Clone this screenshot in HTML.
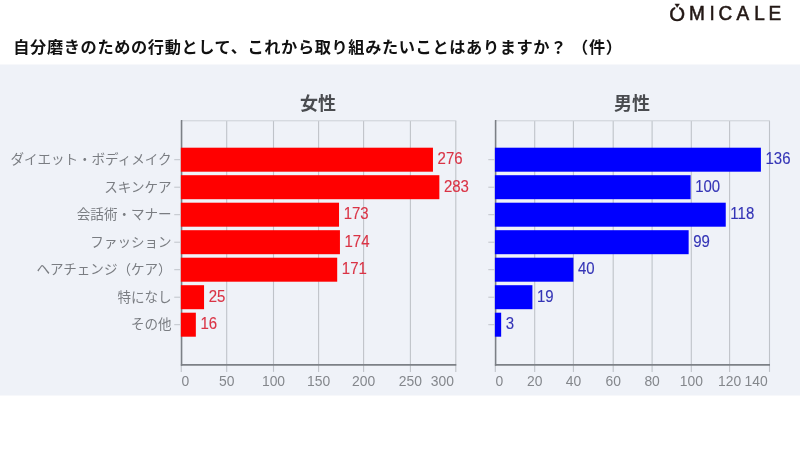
<!DOCTYPE html>
<html lang="ja"><head><meta charset="utf-8"><title>OMICALE</title>
<style>
html,body{margin:0;padding:0;background:#fff;}
body{width:800px;height:450px;position:relative;overflow:hidden;font-family:"Liberation Sans","Noto Sans CJK JP",sans-serif;}
svg text{font-family:"Liberation Sans","Noto Sans CJK JP",sans-serif;}
.title{position:absolute;left:13.3px;top:35.5px;font-size:16.2px;font-weight:bold;color:#111;letter-spacing:0.63px;white-space:pre;text-spacing-trim:space-all;line-height:22px;}
</style></head><body>
<svg width="800" height="450" viewBox="0 0 800 450" style="position:absolute;left:0;top:0">
<rect x="0" y="64.5" width="800" height="331" fill="#eff2f8"/>
<line x1="226.70" y1="121.0" x2="226.70" y2="371.9" stroke="#bfc3c9" stroke-width="1.1"/>
<line x1="273.50" y1="121.0" x2="273.50" y2="371.9" stroke="#bfc3c9" stroke-width="1.1"/>
<line x1="318.60" y1="121.0" x2="318.60" y2="371.9" stroke="#bfc3c9" stroke-width="1.1"/>
<line x1="363.60" y1="121.0" x2="363.60" y2="371.9" stroke="#bfc3c9" stroke-width="1.1"/>
<line x1="410.40" y1="121.0" x2="410.40" y2="371.9" stroke="#bfc3c9" stroke-width="1.1"/>
<line x1="455.80" y1="121.0" x2="455.80" y2="371.9" stroke="#bfc3c9" stroke-width="1.1"/>
<line x1="181.25" y1="120.8" x2="456.3" y2="120.8" stroke="#ccd0d6" stroke-width="1"/>
<line x1="181.25" y1="120.5" x2="181.25" y2="371.9" stroke="#bfc3c9" stroke-width="1.1"/>
<line x1="181.6" y1="120.0" x2="181.6" y2="365.79999999999995" stroke="#7c8086" stroke-width="1.5"/>
<line x1="180.85" y1="364.9" x2="456.3" y2="364.9" stroke="#7c8086" stroke-width="1.8"/>
<rect x="180.85" y="147.70" width="252.11" height="24.0" fill="#ff0000"/>
<text transform="translate(437.56,164.40) scale(1,1.12)" font-size="15" fill="#da3345" text-anchor="start" stroke="#da3345" stroke-width="0.12" class="num">276</text>
<line x1="174.25" y1="159.70" x2="180.85" y2="159.70" stroke="#c0c4ca" stroke-width="1"/>
<text x="171.65" y="164.30" font-size="13.55" fill="#7a7d82" text-anchor="end" class="jp">ダイエット・ボディメイク</text>
<rect x="180.85" y="175.20" width="258.50" height="24.0" fill="#ff0000"/>
<text transform="translate(443.95,191.90) scale(1,1.12)" font-size="15" fill="#da3345" text-anchor="start" stroke="#da3345" stroke-width="0.12" class="num">283</text>
<line x1="174.25" y1="187.20" x2="180.85" y2="187.20" stroke="#c0c4ca" stroke-width="1"/>
<text x="171.65" y="191.80" font-size="13.55" fill="#7a7d82" text-anchor="end" class="jp">スキンケア</text>
<rect x="180.85" y="202.70" width="158.18" height="24.0" fill="#ff0000"/>
<text transform="translate(343.63,219.40) scale(1,1.12)" font-size="15" fill="#da3345" text-anchor="start" stroke="#da3345" stroke-width="0.12" class="num">173</text>
<line x1="174.25" y1="214.70" x2="180.85" y2="214.70" stroke="#c0c4ca" stroke-width="1"/>
<text x="171.65" y="219.30" font-size="13.55" fill="#7a7d82" text-anchor="end" class="jp">会話術・マナー</text>
<rect x="180.85" y="230.20" width="159.09" height="24.0" fill="#ff0000"/>
<text transform="translate(344.54,246.90) scale(1,1.12)" font-size="15" fill="#da3345" text-anchor="start" stroke="#da3345" stroke-width="0.12" class="num">174</text>
<line x1="174.25" y1="242.20" x2="180.85" y2="242.20" stroke="#c0c4ca" stroke-width="1"/>
<text x="171.65" y="246.80" font-size="13.55" fill="#7a7d82" text-anchor="end" class="jp">ファッション</text>
<rect x="180.85" y="257.70" width="156.35" height="24.0" fill="#ff0000"/>
<text transform="translate(341.80,274.40) scale(1,1.12)" font-size="15" fill="#da3345" text-anchor="start" stroke="#da3345" stroke-width="0.12" class="num">171</text>
<line x1="174.25" y1="269.70" x2="180.85" y2="269.70" stroke="#c0c4ca" stroke-width="1"/>
<text x="171.65" y="274.30" font-size="13.55" fill="#7a7d82" text-anchor="end" class="jp">ヘアチェンジ（ケア）</text>
<rect x="180.85" y="285.20" width="23.20" height="24.0" fill="#ff0000"/>
<text transform="translate(208.65,301.90) scale(1,1.12)" font-size="15" fill="#da3345" text-anchor="start" stroke="#da3345" stroke-width="0.12" class="num">25</text>
<line x1="174.25" y1="297.20" x2="180.85" y2="297.20" stroke="#c0c4ca" stroke-width="1"/>
<text x="171.65" y="301.80" font-size="13.55" fill="#7a7d82" text-anchor="end" class="jp">特になし</text>
<rect x="180.85" y="312.70" width="14.99" height="24.0" fill="#ff0000"/>
<text transform="translate(200.44,329.40) scale(1,1.12)" font-size="15" fill="#da3345" text-anchor="start" stroke="#da3345" stroke-width="0.12" class="num">16</text>
<line x1="174.25" y1="324.70" x2="180.85" y2="324.70" stroke="#c0c4ca" stroke-width="1"/>
<text x="171.65" y="329.30" font-size="13.55" fill="#7a7d82" text-anchor="end" class="jp">その他</text>
<text transform="translate(181.55,385.50) scale(1,1.08)" font-size="13.9" fill="#84878c" text-anchor="start" stroke="#84878c" stroke-width="0" class="num">0</text>
<text transform="translate(226.70,385.50) scale(1,1.08)" font-size="13.9" fill="#84878c" text-anchor="middle" stroke="#84878c" stroke-width="0" class="num">50</text>
<text transform="translate(273.50,385.50) scale(1,1.08)" font-size="13.9" fill="#84878c" text-anchor="middle" stroke="#84878c" stroke-width="0" class="num">100</text>
<text transform="translate(318.60,385.50) scale(1,1.08)" font-size="13.9" fill="#84878c" text-anchor="middle" stroke="#84878c" stroke-width="0" class="num">150</text>
<text transform="translate(363.60,385.50) scale(1,1.08)" font-size="13.9" fill="#84878c" text-anchor="middle" stroke="#84878c" stroke-width="0" class="num">200</text>
<text transform="translate(410.40,385.50) scale(1,1.08)" font-size="13.9" fill="#84878c" text-anchor="middle" stroke="#84878c" stroke-width="0" class="num">250</text>
<text transform="translate(454.00,385.50) scale(1,1.08)" font-size="13.9" fill="#84878c" text-anchor="end" stroke="#84878c" stroke-width="0" class="num">300</text>
<text x="318.02" y="110.4" font-size="18" font-weight="bold" fill="#4a4c50" text-anchor="middle" class="jp">女性</text>
<line x1="534.70" y1="121.0" x2="534.70" y2="371.9" stroke="#bfc3c9" stroke-width="1.1"/>
<line x1="573.40" y1="121.0" x2="573.40" y2="371.9" stroke="#bfc3c9" stroke-width="1.1"/>
<line x1="613.20" y1="121.0" x2="613.20" y2="371.9" stroke="#bfc3c9" stroke-width="1.1"/>
<line x1="652.10" y1="121.0" x2="652.10" y2="371.9" stroke="#bfc3c9" stroke-width="1.1"/>
<line x1="691.30" y1="121.0" x2="691.30" y2="371.9" stroke="#bfc3c9" stroke-width="1.1"/>
<line x1="729.60" y1="121.0" x2="729.60" y2="371.9" stroke="#bfc3c9" stroke-width="1.1"/>
<line x1="769.50" y1="121.0" x2="769.50" y2="371.9" stroke="#bfc3c9" stroke-width="1.1"/>
<line x1="495.3" y1="120.8" x2="770.0" y2="120.8" stroke="#ccd0d6" stroke-width="1"/>
<line x1="495.3" y1="120.5" x2="495.3" y2="371.9" stroke="#bfc3c9" stroke-width="1.1"/>
<line x1="495.65000000000003" y1="120.0" x2="495.65000000000003" y2="365.79999999999995" stroke="#7c8086" stroke-width="1.5"/>
<line x1="494.90000000000003" y1="364.9" x2="770.0" y2="364.9" stroke="#7c8086" stroke-width="1.8"/>
<rect x="494.90" y="147.70" width="266.01" height="24.0" fill="#0000ff"/>
<text transform="translate(765.51,164.40) scale(1,1.12)" font-size="15" fill="#3434b6" text-anchor="start" stroke="#3434b6" stroke-width="0.12" class="num">136</text>
<line x1="488.3" y1="159.70" x2="494.90000000000003" y2="159.70" stroke="#c0c4ca" stroke-width="1"/>
<rect x="494.90" y="175.20" width="195.70" height="24.0" fill="#0000ff"/>
<text transform="translate(695.20,191.90) scale(1,1.12)" font-size="15" fill="#3434b6" text-anchor="start" stroke="#3434b6" stroke-width="0.12" class="num">100</text>
<line x1="488.3" y1="187.20" x2="494.90000000000003" y2="187.20" stroke="#c0c4ca" stroke-width="1"/>
<rect x="494.90" y="202.70" width="230.85" height="24.0" fill="#0000ff"/>
<text transform="translate(730.35,219.40) scale(1,1.12)" font-size="15" fill="#3434b6" text-anchor="start" stroke="#3434b6" stroke-width="0.12" class="num">118</text>
<line x1="488.3" y1="214.70" x2="494.90000000000003" y2="214.70" stroke="#c0c4ca" stroke-width="1"/>
<rect x="494.90" y="230.20" width="193.75" height="24.0" fill="#0000ff"/>
<text transform="translate(693.25,246.90) scale(1,1.12)" font-size="15" fill="#3434b6" text-anchor="start" stroke="#3434b6" stroke-width="0.12" class="num">99</text>
<line x1="488.3" y1="242.20" x2="494.90000000000003" y2="242.20" stroke="#c0c4ca" stroke-width="1"/>
<rect x="494.90" y="257.70" width="78.52" height="24.0" fill="#0000ff"/>
<text transform="translate(578.02,274.40) scale(1,1.12)" font-size="15" fill="#3434b6" text-anchor="start" stroke="#3434b6" stroke-width="0.12" class="num">40</text>
<line x1="488.3" y1="269.70" x2="494.90000000000003" y2="269.70" stroke="#c0c4ca" stroke-width="1"/>
<rect x="494.90" y="285.20" width="37.51" height="24.0" fill="#0000ff"/>
<text transform="translate(537.01,301.90) scale(1,1.12)" font-size="15" fill="#3434b6" text-anchor="start" stroke="#3434b6" stroke-width="0.12" class="num">19</text>
<line x1="488.3" y1="297.20" x2="494.90000000000003" y2="297.20" stroke="#c0c4ca" stroke-width="1"/>
<rect x="494.90" y="312.70" width="6.26" height="24.0" fill="#0000ff"/>
<text transform="translate(505.76,329.40) scale(1,1.12)" font-size="15" fill="#3434b6" text-anchor="start" stroke="#3434b6" stroke-width="0.12" class="num">3</text>
<line x1="488.3" y1="324.70" x2="494.90000000000003" y2="324.70" stroke="#c0c4ca" stroke-width="1"/>
<text transform="translate(495.60,385.50) scale(1,1.08)" font-size="13.9" fill="#84878c" text-anchor="start" stroke="#84878c" stroke-width="0" class="num">0</text>
<text transform="translate(534.70,385.50) scale(1,1.08)" font-size="13.9" fill="#84878c" text-anchor="middle" stroke="#84878c" stroke-width="0" class="num">20</text>
<text transform="translate(573.40,385.50) scale(1,1.08)" font-size="13.9" fill="#84878c" text-anchor="middle" stroke="#84878c" stroke-width="0" class="num">40</text>
<text transform="translate(613.20,385.50) scale(1,1.08)" font-size="13.9" fill="#84878c" text-anchor="middle" stroke="#84878c" stroke-width="0" class="num">60</text>
<text transform="translate(652.10,385.50) scale(1,1.08)" font-size="13.9" fill="#84878c" text-anchor="middle" stroke="#84878c" stroke-width="0" class="num">80</text>
<text transform="translate(691.30,385.50) scale(1,1.08)" font-size="13.9" fill="#84878c" text-anchor="middle" stroke="#84878c" stroke-width="0" class="num">100</text>
<text transform="translate(729.60,385.50) scale(1,1.08)" font-size="13.9" fill="#84878c" text-anchor="middle" stroke="#84878c" stroke-width="0" class="num">120</text>
<text transform="translate(767.70,385.50) scale(1,1.08)" font-size="13.9" fill="#84878c" text-anchor="end" stroke="#84878c" stroke-width="0" class="num">140</text>
<text x="631.90" y="110.4" font-size="18" font-weight="bold" fill="#4a4c50" text-anchor="middle" class="jp">男性</text>
<g fill="#231815" stroke="#231815" stroke-width="0.55" class="logo" font-size="19">
<text transform="translate(669.25,21.0) scale(1.04,1.0)" font-size="19.6" stroke-width="0.45">O</text>
<path d="M674.9 5.0 L679.5 5.0 L678.9 9.6 L675.5 9.6 Z" fill="#fff" stroke="none"/>
<path d="M674.9 3.9 L679.5 3.9 L677.2 7.5 Z" fill="#231815" stroke="#231815" stroke-width="0.4" stroke-linejoin="round"/>
<text transform="translate(688.90,20.45) scale(1,1.035)">M</text>
<text transform="translate(709.50,20.45) scale(1,1.035)">I</text>
<text transform="translate(718.40,20.45) scale(1,1.035)">C</text>
<text transform="translate(736.40,20.45) scale(1,1.035)">A</text>
<text transform="translate(754.30,20.45) scale(1,1.035)">L</text>
<text transform="translate(768.60,20.45) scale(1,1.035)">E</text>
</g>
</svg>
<div class="title">自分磨きのための行動として、これから取り組みたいことはありますか？ （件）</div>
</body></html>
